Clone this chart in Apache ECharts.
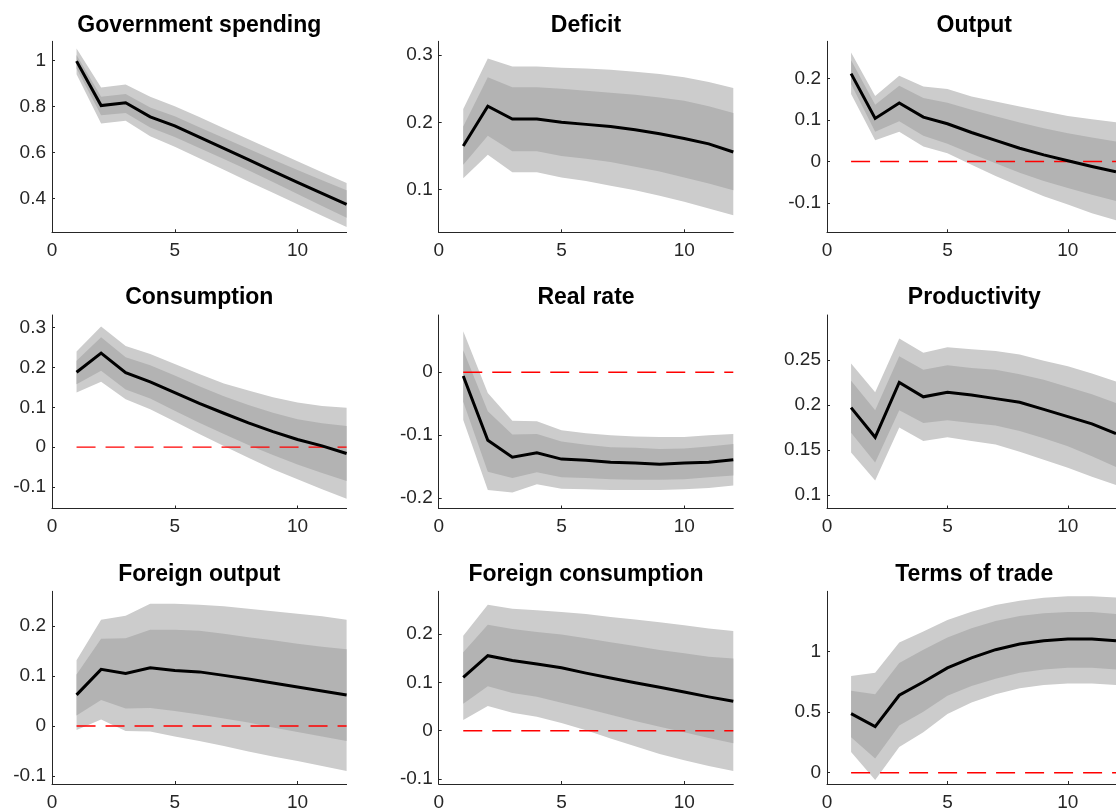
<!DOCTYPE html>
<html>
<head>
<meta charset="utf-8">
<script src="https://cdn.jsdelivr.net/npm/echarts@6/dist/echarts.min.js"></script>
<style>html,body{margin:0;padding:0;background:#fff;}#c{width:1116px;height:812px;}</style>
</head>
<body>
<div id="c"></div>
<script>
// ---------- data ----------
const horizons = [1, 2, 3, 4, 5, 6, 7, 8, 9, 10, 11, 12];
const xTicks = [0, 5, 10];
const titles = ['Government spending', 'Deficit', 'Output', 'Consumption', 'Real rate', 'Productivity',
  'Foreign output', 'Foreign consumption', 'Terms of trade'];

const gov_med  = [0.997, 0.804, 0.816, 0.755, 0.716, 0.667, 0.618, 0.569, 0.520, 0.471, 0.423, 0.375];
const gov_hi90 = [1.052, 0.883, 0.896, 0.842, 0.801, 0.754, 0.706, 0.658, 0.610, 0.562, 0.515, 0.468];
const gov_hi68 = [1.023, 0.842, 0.854, 0.796, 0.758, 0.710, 0.663, 0.617, 0.570, 0.524, 0.480, 0.436];
const gov_lo68 = [0.965, 0.762, 0.772, 0.709, 0.668, 0.620, 0.572, 0.523, 0.472, 0.420, 0.368, 0.317];
const gov_lo90 = [0.940, 0.726, 0.738, 0.671, 0.625, 0.575, 0.525, 0.475, 0.426, 0.376, 0.326, 0.277];

const def_med  = [0.165, 0.224, 0.205, 0.205, 0.200, 0.197, 0.194, 0.189, 0.183, 0.176, 0.168, 0.156];
const def_hi90 = [0.220, 0.295, 0.283, 0.283, 0.281, 0.280, 0.278, 0.275, 0.272, 0.267, 0.260, 0.251];
const def_hi68 = [0.194, 0.267, 0.252, 0.252, 0.250, 0.247, 0.244, 0.241, 0.237, 0.232, 0.224, 0.214];
const def_lo68 = [0.137, 0.180, 0.157, 0.157, 0.150, 0.146, 0.141, 0.134, 0.127, 0.118, 0.109, 0.099];
const def_lo90 = [0.117, 0.152, 0.126, 0.126, 0.118, 0.113, 0.106, 0.099, 0.091, 0.082, 0.072, 0.062];

const out_med  = [0.212, 0.104, 0.141, 0.107, 0.091, 0.070, 0.051, 0.032, 0.016, 0.002, -0.012, -0.025];
const out_hi90 = [0.263, 0.158, 0.207, 0.181, 0.175, 0.157, 0.145, 0.133, 0.121, 0.110, 0.102, 0.095];
const out_hi68 = [0.244, 0.137, 0.183, 0.153, 0.142, 0.125, 0.109, 0.094, 0.080, 0.068, 0.058, 0.048];
const out_lo68 = [0.187, 0.072, 0.097, 0.062, 0.043, 0.019, -0.004, -0.027, -0.047, -0.064, -0.080, -0.095];
const out_lo90 = [0.163, 0.051, 0.072, 0.036, 0.020, -0.008, -0.035, -0.060, -0.084, -0.104, -0.125, -0.142];

const con_med  = [0.188, 0.236, 0.187, 0.164, 0.137, 0.110, 0.085, 0.061, 0.039, 0.019, 0.003, -0.016];
const con_hi90 = [0.240, 0.303, 0.254, 0.234, 0.209, 0.184, 0.160, 0.142, 0.125, 0.112, 0.103, 0.099];
const con_hi68 = [0.217, 0.276, 0.226, 0.206, 0.180, 0.153, 0.128, 0.106, 0.086, 0.070, 0.060, 0.053];
const con_lo68 = [0.158, 0.192, 0.145, 0.122, 0.091, 0.061, 0.033, 0.005, -0.020, -0.044, -0.065, -0.085];
const con_lo90 = [0.137, 0.164, 0.120, 0.095, 0.064, 0.033, 0.003, -0.027, -0.056, -0.081, -0.106, -0.130];

const rr_med  = [-0.006, -0.108, -0.135, -0.128, -0.138, -0.140, -0.143, -0.144, -0.146, -0.144, -0.143, -0.139];
const rr_hi90 = [0.065, -0.033, -0.077, -0.078, -0.092, -0.097, -0.100, -0.102, -0.103, -0.103, -0.100, -0.098];
const rr_hi68 = [0.035, -0.062, -0.099, -0.098, -0.110, -0.115, -0.119, -0.120, -0.122, -0.121, -0.118, -0.114];
const rr_lo68 = [-0.047, -0.158, -0.168, -0.159, -0.167, -0.168, -0.170, -0.171, -0.171, -0.170, -0.167, -0.164];
const rr_lo90 = [-0.076, -0.187, -0.191, -0.178, -0.185, -0.186, -0.187, -0.187, -0.187, -0.186, -0.184, -0.180];

const pro_med  = [0.197, 0.164, 0.225, 0.209, 0.214, 0.211, 0.207, 0.203, 0.195, 0.187, 0.179, 0.168];
const pro_hi90 = [0.246, 0.214, 0.274, 0.258, 0.264, 0.262, 0.260, 0.256, 0.249, 0.243, 0.235, 0.226];
const pro_hi68 = [0.227, 0.194, 0.254, 0.239, 0.244, 0.241, 0.239, 0.234, 0.228, 0.220, 0.212, 0.202];
const pro_lo68 = [0.169, 0.136, 0.194, 0.180, 0.183, 0.180, 0.177, 0.171, 0.163, 0.154, 0.143, 0.131];
const pro_lo90 = [0.147, 0.116, 0.175, 0.160, 0.164, 0.160, 0.156, 0.148, 0.139, 0.130, 0.120, 0.111];

const fo_med  = [0.062, 0.113, 0.105, 0.116, 0.111, 0.108, 0.101, 0.094, 0.086, 0.078, 0.070, 0.062];
const fo_hi90 = [0.131, 0.212, 0.220, 0.244, 0.244, 0.242, 0.239, 0.234, 0.229, 0.224, 0.219, 0.212];
const fo_hi68 = [0.103, 0.174, 0.175, 0.192, 0.192, 0.190, 0.184, 0.177, 0.171, 0.164, 0.158, 0.153];
const fo_lo68 = [0.021, 0.052, 0.035, 0.036, 0.030, 0.023, 0.015, 0.007, -0.003, -0.012, -0.021, -0.030];
const fo_lo90 = [-0.008, 0.013, -0.010, -0.011, -0.021, -0.030, -0.040, -0.051, -0.061, -0.070, -0.080, -0.090];

const fc_med  = [0.110, 0.155, 0.145, 0.138, 0.130, 0.119, 0.109, 0.099, 0.090, 0.080, 0.070, 0.061];
const fc_hi90 = [0.196, 0.260, 0.252, 0.249, 0.245, 0.241, 0.235, 0.230, 0.224, 0.218, 0.211, 0.206];
const fc_hi68 = [0.162, 0.219, 0.210, 0.204, 0.199, 0.191, 0.183, 0.175, 0.167, 0.160, 0.153, 0.149];
const fc_lo68 = [0.056, 0.092, 0.078, 0.070, 0.058, 0.046, 0.033, 0.020, 0.008, -0.003, -0.015, -0.026];
const fc_lo90 = [0.022, 0.051, 0.037, 0.029, 0.016, 0.001, -0.016, -0.032, -0.048, -0.061, -0.073, -0.083];

const tot_med  = [0.488, 0.381, 0.640, 0.749, 0.866, 0.948, 1.016, 1.063, 1.090, 1.104, 1.104, 1.090];
const tot_hi90 = [0.798, 0.826, 1.076, 1.166, 1.262, 1.330, 1.384, 1.420, 1.444, 1.458, 1.458, 1.447];
const tot_hi68 = [0.676, 0.649, 0.907, 1.016, 1.117, 1.193, 1.253, 1.294, 1.316, 1.327, 1.327, 1.311];
const tot_lo68 = [0.294, 0.117, 0.390, 0.504, 0.635, 0.717, 0.777, 0.826, 0.853, 0.866, 0.866, 0.853];
const tot_lo90 = [0.172, -0.060, 0.213, 0.335, 0.485, 0.580, 0.649, 0.698, 0.725, 0.736, 0.736, 0.725];

// y-axis tick labels and ranges
const yTicks = [
  [0.4, 0.6, 0.8, 1],
  [0.1, 0.2, 0.3],
  [-0.1, 0, 0.1, 0.2],
  [-0.1, 0, 0.1, 0.2, 0.3],
  [-0.2, -0.1, 0],
  [0.1, 0.15, 0.2, 0.25],
  [-0.1, 0, 0.1, 0.2],
  [-0.1, 0, 0.1, 0.2],
  [0, 0.5, 1]
];
const yMin = [0.254, 0.0367, -0.1708, -0.1544, -0.2165, 0.0848, -0.116, -0.110, -0.093];
const yMax = [1.083, 0.3204, 0.290, 0.332, 0.091, 0.300, 0.269, 0.288, 1.498];
const hasZeroLine = [false, false, true, true, true, false, true, true, true];
const zeroLineX = [1, 12];
const zeroLineY = [0, 0];

// ---------- build ----------
const meds = [gov_med, def_med, out_med, con_med, rr_med, pro_med, fo_med, fc_med, tot_med];
const hi90 = [gov_hi90, def_hi90, out_hi90, con_hi90, rr_hi90, pro_hi90, fo_hi90, fc_hi90, tot_hi90];
const hi68 = [gov_hi68, def_hi68, out_hi68, con_hi68, rr_hi68, pro_hi68, fo_hi68, fc_hi68, tot_hi68];
const lo68 = [gov_lo68, def_lo68, out_lo68, con_lo68, rr_lo68, pro_lo68, fo_lo68, fc_lo68, tot_lo68];
const lo90 = [gov_lo90, def_lo90, out_lo90, con_lo90, rr_lo90, pro_lo90, fo_lo90, fc_lo90, tot_lo90];

const colLeft = [52, 438.7, 827];
const plotW = 294.6;
const rowTop = [41.3, 315, 591.3];
const rowH = [191, 193.5, 194.2];
const titleY = [25.5, 298, 574.5];

const FONT = '"Liberation Sans", Arial, Helvetica, sans-serif';
const AXC = '#262626';
const LIGHT = '#cccccc';
const DARK = '#b3b3b3';

const grids = [], xAxes = [], yAxes = [], series = [], graphics = [];
const pair = (a) => horizons.map((h, k) => [h, a[k]]);
const band = (lo, hi) => horizons.map((h, k) => [h, lo[k], hi[k]]);

function bandRenderer(color) {
  return function (params, api) {
    if (params.dataIndexInside !== 0) return null;
    const n = params.dataInsideLength;
    const upper = [], lower = [];
    for (let k = 0; k < n; k++) {
      const x = api.value(0, k);
      upper.push(api.coord([x, api.value(2, k)]));
      lower.push(api.coord([x, api.value(1, k)]));
    }
    return { type: 'polygon', silent: true,
      shape: { points: upper.concat(lower.reverse()) },
      style: { fill: color, stroke: null } };
  };
}

function zeroRenderer(params, api) {
  if (params.dataIndexInside !== 0) return null;
  const p1 = api.coord([api.value(0, 0), api.value(1, 0)]);
  const p2 = api.coord([api.value(0, 1), api.value(1, 1)]);
  return { type: 'line', silent: true,
    shape: { x1: p1[0], y1: p1[1], x2: p2[0], y2: p2[1] },
    style: { stroke: '#ff0000', lineWidth: 1.4, lineDash: [19, 10], fill: null } };
}

for (let i = 0; i < 9; i++) {
  const r = Math.floor(i / 3), c = i % 3;
  grids.push({ left: colLeft[c], top: rowTop[r], width: plotW, height: rowH[r], containLabel: false });
  const axisCommon = {
    axisLine: { show: true, onZero: false, lineStyle: { color: AXC, width: 1 } },
    axisTick: { show: true, inside: true, length: 3, lineStyle: { color: AXC } },
    splitLine: { show: false },
    axisLabel: { color: AXC, fontSize: 19, fontFamily: FONT }
  };
  xAxes.push(Object.assign({}, axisCommon, {
    type: 'value', gridIndex: i, min: 0, max: 12, z: 5,
    axisTick: Object.assign({}, axisCommon.axisTick, { customValues: xTicks }),
    axisLabel: Object.assign({}, axisCommon.axisLabel, { customValues: xTicks, margin: 9 })
  }));
  yAxes.push(Object.assign({}, axisCommon, {
    type: 'value', gridIndex: i, min: yMin[i], max: yMax[i], z: 5,
    axisTick: Object.assign({}, axisCommon.axisTick, { customValues: yTicks[i] }),
    axisLabel: Object.assign({}, axisCommon.axisLabel, { customValues: yTicks[i], margin: 6 })
  }));

  series.push({ type: 'custom', xAxisIndex: i, yAxisIndex: i, silent: true, animation: false, z: 1,
    data: band(lo90[i], hi90[i]), encode: { x: 0, y: [1, 2] }, renderItem: bandRenderer(LIGHT) });
  series.push({ type: 'custom', xAxisIndex: i, yAxisIndex: i, silent: true, animation: false, z: 1,
    data: band(lo68[i], hi68[i]), encode: { x: 0, y: [1, 2] }, renderItem: bandRenderer(DARK) });
  if (hasZeroLine[i]) {
    series.push({ type: 'custom', xAxisIndex: i, yAxisIndex: i, silent: true, animation: false, z: 2,
      data: zeroLineX.map((x, k) => [x, zeroLineY[k]]), encode: { x: 0, y: 1 },
      renderItem: zeroRenderer });
  }
  series.push({ type: 'line', xAxisIndex: i, yAxisIndex: i, symbol: 'none', silent: true, animation: false, z: 3,
    data: pair(meds[i]), lineStyle: { color: '#000000', width: 3, cap: 'butt', join: 'miter' } });

  graphics.push({ type: 'text', x: colLeft[c] + plotW / 2, y: titleY[r], silent: true,
    style: { text: titles[i], fontSize: 23, fontWeight: 'bold', fontFamily: FONT, fill: '#000',
      align: 'center', verticalAlign: 'middle' } });
}

const chart = echarts.init(document.getElementById('c'), null, { renderer: 'canvas' });
chart.setOption({
  backgroundColor: '#ffffff',
  animation: false,
  grid: grids, xAxis: xAxes, yAxis: yAxes, series: series,
  graphic: graphics
});
</script>
</body>
</html>
